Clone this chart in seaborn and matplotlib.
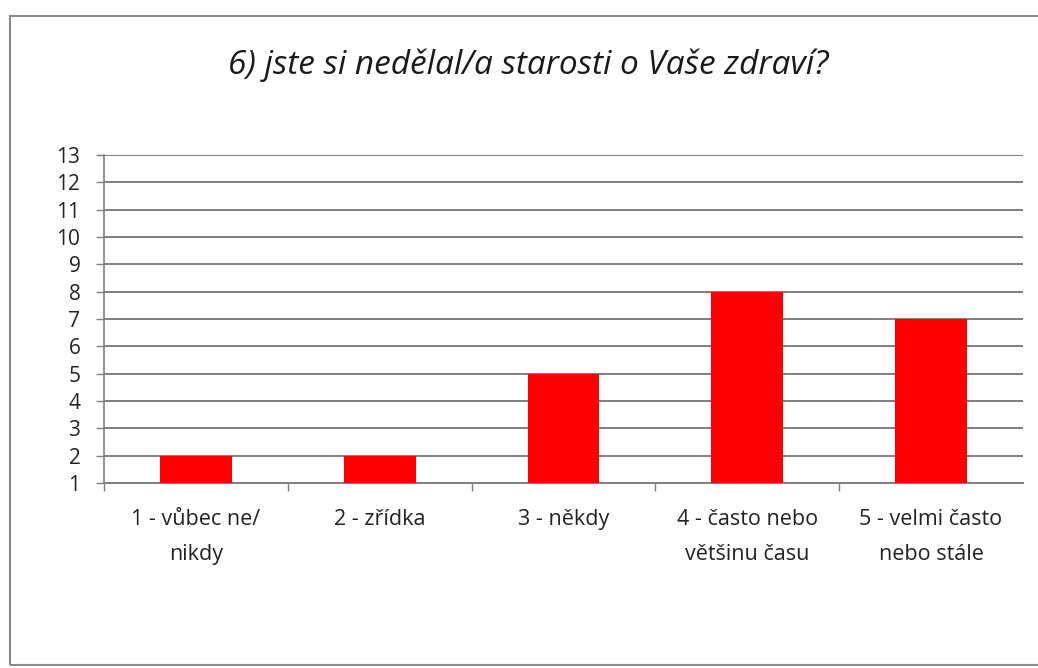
import matplotlib
matplotlib.use("Agg")
import matplotlib.pyplot as plt
from matplotlib.patches import Rectangle
import seaborn as sns
import pandas as pd

categories = [
    "1 - vůbec ne/\nnikdy",
    "2 - zřídka",
    "3 - někdy",
    "4 - často nebo\nvětšinu času",
    "5 - velmi často\nnebo stále",
]
counts = [2, 2, 5, 8, 7]
y_ticks = list(range(1, 14))
title = "6) jste si nedělal/a starosti o Vaše zdraví?"

sns.set_theme(style="white")
plt.rcParams["font.family"] = ["Open Sans", "DejaVu Sans"]

df = pd.DataFrame({"kategorie": categories, "pocet": counts})

fig = plt.figure(figsize=(10.38, 6.68), dpi=100)
fig.patch.set_facecolor("white")
ax = fig.add_axes([0.1002, 0.2769, 0.8853, 0.4911])

sns.barplot(data=df, x="kategorie", y="pocet", color="#ff0000",
            saturation=1, width=0.39, linewidth=0, ax=ax, zorder=3)

ax.set_ylim(1, 13)
ax.set_xlim(-0.5, len(categories) - 0.5)
ax.set_yticks(y_ticks)
ax.set_yticklabels([str(t) for t in y_ticks], fontsize=15, color="#222222")
ax.set_xlabel("")
ax.set_ylabel("")

# horizontal gridlines at each integer
for t in y_ticks:
    ax.axhline(t, color="#7f7f7f", lw=1.4, zorder=1)

for s in ["top", "right"]:
    ax.spines[s].set_visible(False)
ax.spines["left"].set_color("#7f7f7f")
ax.spines["left"].set_linewidth(1.2)
ax.spines["bottom"].set_color("#7f7f7f")
ax.spines["bottom"].set_linewidth(1.4)

ax.tick_params(axis="y", which="both", left=True, length=6, width=1,
               color="#7f7f7f", pad=11)
ax.tick_params(axis="x", bottom=False, pad=13)
ax.set_xticks(range(len(categories)))
ax.set_xticklabels(categories, fontsize=15.5, color="#222222", linespacing=1.85)

# tick marks at category boundaries below the axis
ax.set_xticks([i + 0.5 for i in range(-1, len(categories) - 1)], minor=True)
ax.tick_params(axis="x", which="minor", bottom=True, length=6, width=1,
               color="#7f7f7f")

fig.text(0.509, 1 - 74 / 668, title, ha="center", va="baseline",
         fontsize=24, style="italic", color="#1a1a1a")

# chart frame
fig.patches.append(Rectangle((10 / 1038, 3 / 668), 1.1, 649 / 668,
                             transform=fig.transFigure, fill=False,
                             edgecolor="#8a8a8a", lw=1.5, zorder=0))

fig.savefig("out.png", dpi=100)
